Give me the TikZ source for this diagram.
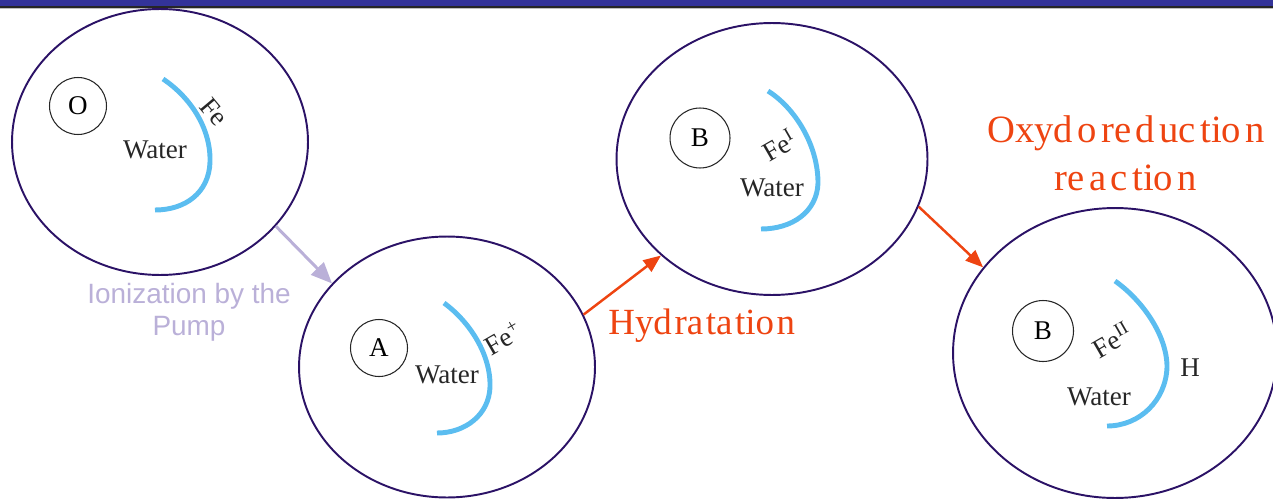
\documentclass[tikz,border=0pt]{standalone}
\usepackage{fontspec}
\setmainfont{Liberation Serif}
\newfontfamily\arialfont{Liberation Sans}
\usetikzlibrary{shapes.geometric,arrows.meta}
\definecolor{barc}{HTML}{333399}
\definecolor{ringc}{HTML}{2B1266}
\definecolor{skyc}{HTML}{5BBDF0}
\definecolor{redc}{HTML}{EE4411}
\definecolor{lilac}{HTML}{BAB0D8}
\newcommand{\gap}{\kern1.5pt}
\newcommand{\wgap}{\kern2.5pt}
\tikzset{
  cell/.style={ellipse, draw=ringc, line width=1.1pt, inner sep=0pt},
  site/.style={circle, draw=black!85, line width=0.6pt, minimum size=1.14cm, inner sep=0pt, font=\fontsize{15.4}{17}\selectfont},
  lbl/.style={inner sep=0pt, text=black!85, font=\fontsize{15.4}{17}\selectfont},
  metal/.style={skyc, line width=2.8pt},
  pump/.style={lilac, line width=1.7pt, -{Triangle[length=12pt, width=10pt]}},
  react/.style={redc, line width=1.4pt, -{Triangle[length=10pt, width=8pt]}},
  redlbl/.style={inner sep=0pt, text=redc, font=\fontsize{21}{27.2}\selectfont},
}
\begin{document}
\begin{tikzpicture}[x=0.02cm, y=-0.02cm]
  \useasboundingbox (0,0) rectangle (1273,500);
  \fill[barc] (0,0) rectangle (1273,6);
  \fill[black!85] (0,6) rectangle (1273,8);
  \draw[gray!50, line width=0.5pt] (0,8.6) -- (1273,8.6);

  \node[cell, minimum width=5.92cm, minimum height=5.32cm] (cellO) at (160,142) {};
  \node[cell, minimum width=5.92cm, minimum height=5.22cm] (cellA) at (447,367) {};
  \node[cell, minimum width=6.22cm, minimum height=5.44cm] (cellB) at (772,159) {};
  \node[cell, minimum width=6.48cm, minimum height=5.8cm] (cellC) at (1115,353) {};

  \node[site] (siteO) at (78,106) {O};
  \node[site] (siteA) at (379,348) {A};
  \node[site, minimum size=1.2cm] (siteB) at (700,138) {B};
  \node[site, minimum size=1.22cm] (siteC) at (1043,331) {B};

  \draw[metal] (163,79) .. controls (190,97) and (211,128) .. (210,162) .. controls (209,193) and (185,210) .. (155,210);
  \draw[metal] (444,303) .. controls (470,322) and (491,355) .. (490,387) .. controls (489,415) and (465,433) .. (437,433);
  \draw[metal] (768,91) .. controls (795,108) and (818,145) .. (818,183) .. controls (817,212) and (792,229) .. (761,229);
  \draw[metal] (1115,281) .. controls (1142,300) and (1167,335) .. (1167,367) .. controls (1166,400) and (1140,426) .. (1107,426);

  \node[lbl] (waterO) at (155,150) {Water};
  \node[lbl, rotate=-50] (feO) at (214,112) {Fe};
  \node[lbl] (waterA) at (447,375) {Water};
  \node[lbl, rotate=30] (feA) at (503,338) {Fe\textsuperscript{+}};
  \node[lbl] (waterB) at (772,188) {Water};
  \node[lbl, rotate=30] (feB) at (779,145) {Fe\textsuperscript{I}};
  \node[lbl] (waterC) at (1099,397) {Water};
  \node[lbl, rotate=30] (feC) at (1112,340) {Fe\textsuperscript{II}};
  \node[lbl] (hyd) at (1190,368) {H};

  \draw[pump] (cellO.324) -- (cellA.144);
  \draw[react] (cellA.21) -- (cellB.221);
  \draw[react] (cellB.342) -- (cellC.147);

  \node[inner sep=0pt, align=center, text=lilac, font=\arialfont\fontsize{15.9}{18.1}\selectfont] (ionize) at (189,312) {Ionization by the\\Pump};
  \node[redlbl, anchor=base west] (hydra) at (608,334) {Hyd\gap ra\gap ta\gap tio\gap n};
  \node[redlbl, align=center, font=\fontsize{22}{27.2}\selectfont] (oxred) at (1126,153) {Oxyd\wgap o\wgap re\wgap d\wgap uc\wgap tio\wgap n\\re\wgap a\wgap c\wgap tio\wgap n};
\end{tikzpicture}
\end{document}
